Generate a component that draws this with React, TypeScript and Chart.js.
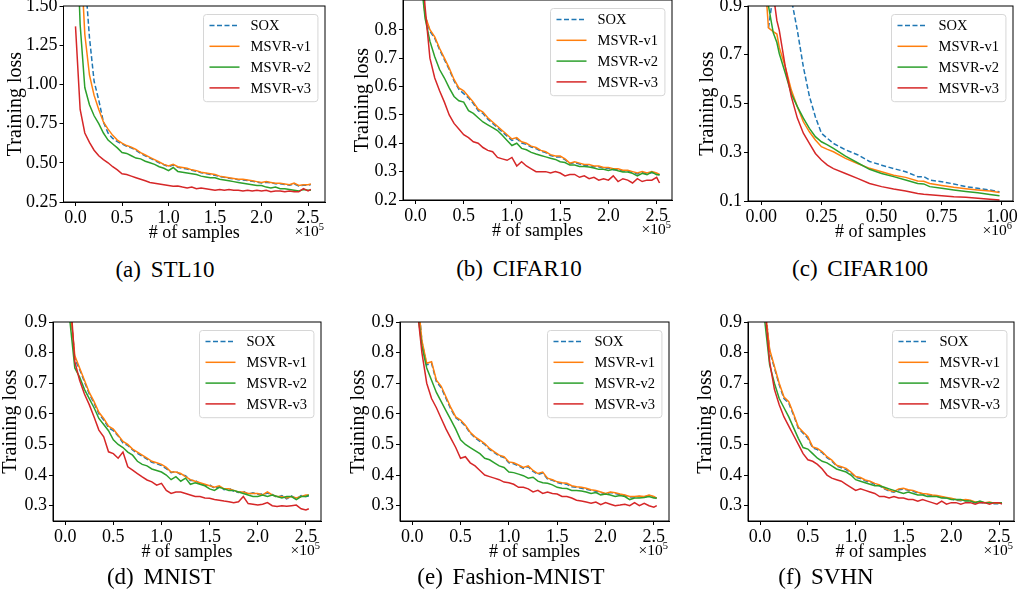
import React, { useEffect, useRef } from "react";
import { Chart, registerables } from "chart.js";

Chart.register(...registerables);
Chart.defaults.font.family = "'Liberation Serif', 'Times New Roman', serif";
Chart.defaults.color = "#000";

// ---------------- data ----------------
const SERIES_NAMES = ["SOX", "MSVR-v1", "MSVR-v2", "MSVR-v3"];
const SERIES_COLORS = ["#1f77b4", "#ff7f0e", "#2ca02c", "#d62728"];

// # of samples (x 1e5) shared by STL10, CIFAR10, MNIST, Fashion-MNIST, SVHN
const X_SAMPLES_E5 = [
  0, 0.05, 0.1, 0.15, 0.2, 0.25, 0.3, 0.35, 0.4, 0.45,
  0.5, 0.55, 0.6, 0.65, 0.7, 0.75, 0.8, 0.85, 0.9, 0.95,
  1.0, 1.05, 1.1, 1.15, 1.2, 1.25, 1.3, 1.35, 1.4, 1.45,
  1.5, 1.55, 1.6, 1.65, 1.7, 1.75, 1.8, 1.85, 1.9, 1.95,
  2.0, 2.05, 2.1, 2.15, 2.2, 2.25, 2.3, 2.35, 2.4, 2.45,
  2.5, 2.53,
];
// # of samples (x 1e6) for CIFAR100
const X_SAMPLES_E6 = [
  0.02, 0.03, 0.05, 0.065, 0.075, 0.1, 0.125, 0.15, 0.175, 0.2,
  0.225, 0.25, 0.275, 0.3, 0.35, 0.4, 0.45, 0.5, 0.55, 0.6,
  0.65, 0.675, 0.7, 0.75, 0.8, 0.85, 0.9, 0.95, 0.99,
];

const STL10_SOX = [
  4.0, 3.0, 1.7, 1.3, 1.02, 0.9, 0.76, 0.69, 0.655, 0.635,
  0.62, 0.605, 0.595, 0.58, 0.56, 0.545, 0.53, 0.515, 0.5, 0.488,
  0.476, 0.485, 0.472, 0.466, 0.46, 0.452, 0.446, 0.437, 0.432, 0.426,
  0.42, 0.412, 0.407, 0.402, 0.398, 0.392, 0.39, 0.387, 0.382, 0.377,
  0.372, 0.376, 0.372, 0.367, 0.366, 0.362, 0.357, 0.366, 0.352, 0.357,
  0.357, 0.362,
];
const STL10_V1 = [
  3.0, 1.9, 1.32, 1.06, 0.93, 0.84, 0.76, 0.715, 0.675, 0.645,
  0.625, 0.61, 0.6, 0.585, 0.565, 0.55, 0.535, 0.52, 0.505, 0.49,
  0.48, 0.49, 0.475, 0.47, 0.465, 0.455, 0.45, 0.44, 0.435, 0.43,
  0.425, 0.415, 0.41, 0.405, 0.4, 0.395, 0.395, 0.39, 0.385, 0.38,
  0.375, 0.38, 0.375, 0.37, 0.37, 0.365, 0.36, 0.37, 0.355, 0.36,
  0.36, 0.365,
];
const STL10_V2 = [
  2.2, 1.38, 0.98, 0.87, 0.8, 0.75, 0.69, 0.645, 0.62, 0.595,
  0.565, 0.56, 0.545, 0.53, 0.525, 0.51, 0.5, 0.49, 0.475, 0.465,
  0.45, 0.47, 0.445, 0.44, 0.435, 0.43, 0.425, 0.415, 0.41, 0.405,
  0.405, 0.395, 0.39, 0.385, 0.38, 0.375, 0.37, 0.365, 0.36, 0.355,
  0.355, 0.345, 0.34, 0.345, 0.335, 0.335, 0.33, 0.325, 0.32, 0.33,
  0.325, 0.325,
];
const STL10_V3 = [
  1.37, 0.84, 0.69, 0.63, 0.58, 0.545, 0.52, 0.5, 0.475, 0.455,
  0.43, 0.425, 0.415, 0.405, 0.395, 0.385, 0.375, 0.37, 0.365, 0.36,
  0.355, 0.35, 0.352, 0.345, 0.34, 0.345, 0.335, 0.34, 0.335, 0.33,
  0.325, 0.33, 0.325, 0.33, 0.325, 0.325, 0.32, 0.325, 0.32, 0.325,
  0.32, 0.325, 0.315, 0.32, 0.32, 0.315, 0.32, 0.315, 0.315, 0.335,
  0.32, 0.33,
];

const CIFAR10_SOX = [
  1.45, 1.06, 0.85, 0.795, 0.77, 0.73, 0.695, 0.66, 0.62, 0.59,
  0.575, 0.56, 0.54, 0.515, 0.505, 0.485, 0.47, 0.455, 0.44, 0.425,
  0.41, 0.416, 0.401, 0.396, 0.387, 0.381, 0.372, 0.367, 0.357, 0.352,
  0.352, 0.342, 0.328, 0.332, 0.327, 0.322, 0.322, 0.317, 0.317, 0.312,
  0.312, 0.307, 0.307, 0.302, 0.302, 0.297, 0.292, 0.297, 0.292, 0.297,
  0.292, 0.288,
];
const CIFAR10_V1 = [
  1.4, 1.05, 0.85, 0.8, 0.775, 0.735, 0.7, 0.665, 0.625, 0.595,
  0.585, 0.565, 0.545, 0.52, 0.51, 0.49, 0.475, 0.46, 0.445, 0.43,
  0.415, 0.42, 0.405, 0.4, 0.39, 0.385, 0.375, 0.37, 0.36, 0.355,
  0.355, 0.345, 0.33, 0.335, 0.33, 0.325, 0.325, 0.32, 0.32, 0.315,
  0.315, 0.31, 0.31, 0.305, 0.305, 0.3, 0.295, 0.3, 0.295, 0.3,
  0.295, 0.29,
];
const CIFAR10_V2 = [
  1.3, 1.0, 0.84, 0.76, 0.705, 0.66, 0.63, 0.595, 0.565, 0.55,
  0.545, 0.515, 0.505, 0.49, 0.475, 0.465, 0.455, 0.445, 0.428, 0.41,
  0.392, 0.4, 0.382, 0.377, 0.368, 0.362, 0.357, 0.352, 0.347, 0.343,
  0.335, 0.332, 0.323, 0.323, 0.318, 0.318, 0.316, 0.313, 0.308, 0.308,
  0.304, 0.308, 0.303, 0.299, 0.299, 0.294, 0.285, 0.294, 0.289, 0.298,
  0.289, 0.289,
];
const CIFAR10_V3 = [
  1.5, 1.1, 0.88, 0.7, 0.63, 0.585, 0.545, 0.5, 0.47, 0.45,
  0.43, 0.42, 0.405, 0.4, 0.385, 0.375, 0.37, 0.35, 0.345, 0.34,
  0.35, 0.32, 0.335, 0.32, 0.31, 0.3, 0.3, 0.3, 0.295, 0.3,
  0.295, 0.285, 0.29, 0.29, 0.28, 0.285, 0.275, 0.28, 0.27, 0.275,
  0.27, 0.285, 0.265, 0.275, 0.27, 0.26, 0.275, 0.265, 0.27, 0.27,
  0.28, 0.26,
];

const CIFAR100_SOX = [
  null, 0.81, 0.95, 1.0, 1.0, 0.98, 0.93, 0.8, 0.65, 0.53,
  0.445, 0.378, 0.357, 0.336, 0.31, 0.29, 0.262, 0.247, 0.233, 0.22,
  0.2, 0.2, 0.186, 0.179, 0.17, 0.159, 0.152, 0.145, 0.138,
];
const CIFAR100_V1 = [
  0.95, 0.81, 0.795, 0.785, 0.73, 0.65, 0.555, 0.487, 0.425, 0.384,
  0.35, 0.323, 0.312, 0.302, 0.275, 0.254, 0.234, 0.22, 0.206, 0.197,
  0.182, 0.181, 0.172, 0.164, 0.156, 0.15, 0.145, 0.141, 0.135,
];
const CIFAR100_V2 = [
  0.96, 0.9, 0.79, 0.75, 0.705, 0.624, 0.54, 0.487, 0.44, 0.398,
  0.364, 0.343, 0.33, 0.316, 0.284, 0.257, 0.23, 0.213, 0.2, 0.186,
  0.172, 0.17, 0.159, 0.152, 0.145, 0.139, 0.134, 0.127, 0.122,
];
const CIFAR100_V3 = [
  1.1, 1.05, 0.95, 0.84, 0.8, 0.65, 0.528, 0.44, 0.378, 0.336,
  0.295, 0.268, 0.247, 0.233, 0.213, 0.193, 0.172, 0.159, 0.149, 0.141,
  0.131, 0.128, 0.126, 0.122, 0.117, 0.115, 0.111, 0.107, 0.104,
];

const MNIST_SOX = [
  1.6, 0.96, 0.78, 0.745, 0.705, 0.665, 0.635, 0.6, 0.58, 0.555,
  0.545, 0.528, 0.505, 0.497, 0.482, 0.471, 0.462, 0.452, 0.442, 0.437,
  0.431, 0.421, 0.408, 0.412, 0.401, 0.398, 0.382, 0.383, 0.372, 0.367,
  0.368, 0.357, 0.362, 0.352, 0.357, 0.347, 0.343, 0.347, 0.337, 0.342,
  0.337, 0.338, 0.341, 0.337, 0.327, 0.333, 0.322, 0.332, 0.322, 0.333,
  0.33, 0.332,
];
const MNIST_V1 = [
  1.5, 0.95, 0.79, 0.75, 0.71, 0.67, 0.64, 0.605, 0.585, 0.56,
  0.55, 0.53, 0.51, 0.5, 0.485, 0.475, 0.465, 0.455, 0.445, 0.44,
  0.435, 0.425, 0.41, 0.41, 0.405, 0.395, 0.385, 0.38, 0.375, 0.37,
  0.365, 0.36, 0.365, 0.355, 0.355, 0.35, 0.345, 0.345, 0.34, 0.34,
  0.34, 0.335, 0.345, 0.335, 0.33, 0.33, 0.325, 0.33, 0.325, 0.33,
  0.335, 0.335,
];
const MNIST_V2 = [
  1.3, 0.9, 0.75, 0.72, 0.68, 0.65, 0.62, 0.585, 0.565, 0.545,
  0.515, 0.5, 0.49, 0.475, 0.465, 0.445, 0.435, 0.43, 0.42, 0.415,
  0.41, 0.4, 0.385, 0.395, 0.38, 0.39, 0.37, 0.375, 0.37, 0.365,
  0.355, 0.35, 0.36, 0.355, 0.35, 0.35, 0.345, 0.34, 0.335, 0.33,
  0.33, 0.335, 0.33, 0.335, 0.33, 0.325, 0.33, 0.33, 0.32, 0.33,
  0.33, 0.335,
];
const MNIST_V3 = [
  1.5, 1.0, 0.77, 0.71, 0.665, 0.63, 0.59, 0.547, 0.525, 0.476,
  0.47, 0.455, 0.475, 0.427, 0.416, 0.405, 0.394, 0.384, 0.378, 0.367,
  0.373, 0.35, 0.34, 0.345, 0.345, 0.34, 0.335, 0.33, 0.33, 0.325,
  0.324, 0.32, 0.318, 0.315, 0.313, 0.31, 0.313, 0.33, 0.307, 0.305,
  0.302, 0.305, 0.31, 0.3, 0.297, 0.3, 0.298, 0.3, 0.302, 0.29,
  0.286, 0.29,
];

const FMNIST_SOX = [
  1.6, 1.02, 0.835, 0.76, 0.765, 0.705, 0.685, 0.65, 0.615, 0.587,
  0.576, 0.56, 0.537, 0.522, 0.51, 0.5, 0.484, 0.473, 0.462, 0.457,
  0.44, 0.437, 0.43, 0.422, 0.427, 0.412, 0.402, 0.407, 0.387, 0.383,
  0.376, 0.372, 0.37, 0.362, 0.36, 0.357, 0.354, 0.35, 0.347, 0.343,
  0.338, 0.343, 0.34, 0.336, 0.333, 0.328, 0.328, 0.33, 0.328, 0.333,
  0.328, 0.323,
];
const FMNIST_V1 = [
  1.5, 1.0, 0.84, 0.765, 0.77, 0.71, 0.69, 0.655, 0.62, 0.59,
  0.58, 0.563, 0.54, 0.525, 0.514, 0.503, 0.487, 0.476, 0.465, 0.46,
  0.443, 0.44, 0.433, 0.425, 0.43, 0.415, 0.405, 0.41, 0.39, 0.385,
  0.378, 0.375, 0.373, 0.365, 0.362, 0.36, 0.357, 0.352, 0.35, 0.345,
  0.34, 0.345, 0.342, 0.338, 0.335, 0.33, 0.33, 0.332, 0.33, 0.335,
  0.33, 0.325,
];
const FMNIST_V2 = [
  1.4, 0.95, 0.82, 0.75, 0.71, 0.67, 0.64, 0.61, 0.58, 0.55,
  0.515, 0.5, 0.49, 0.48, 0.47, 0.455, 0.45, 0.44, 0.43, 0.425,
  0.41, 0.408, 0.403, 0.398, 0.39, 0.393, 0.38, 0.375, 0.373, 0.368,
  0.36, 0.357, 0.356, 0.35, 0.35, 0.348, 0.345, 0.34, 0.343, 0.335,
  0.338, 0.335, 0.33, 0.333, 0.33, 0.32, 0.325, 0.325, 0.327, 0.33,
  0.325, 0.325,
];
const FMNIST_V3 = [
  1.4, 0.95, 0.8, 0.7, 0.65, 0.62, 0.585, 0.55, 0.52, 0.49,
  0.455, 0.46, 0.44, 0.43, 0.415, 0.4, 0.395, 0.39, 0.385, 0.377,
  0.375, 0.37, 0.36, 0.36, 0.355, 0.345, 0.35, 0.34, 0.345, 0.34,
  0.338, 0.33, 0.33, 0.325, 0.318, 0.315, 0.312, 0.308, 0.312, 0.303,
  0.31, 0.305, 0.3, 0.302, 0.305, 0.3, 0.31, 0.3, 0.308, 0.3,
  0.295, 0.3,
];

const SVHN_SOX = [
  1.6, 0.96, 0.805, 0.75, 0.695, 0.65, 0.635, 0.596, 0.553, 0.537,
  0.52, 0.489, 0.483, 0.473, 0.457, 0.446, 0.43, 0.424, 0.418, 0.407,
  0.393, 0.389, 0.381, 0.377, 0.37, 0.365, 0.355, 0.348, 0.344, 0.352,
  0.354, 0.35, 0.347, 0.342, 0.338, 0.336, 0.333, 0.331, 0.328, 0.325,
  0.322, 0.318, 0.316, 0.318, 0.316, 0.31, 0.311, 0.308, 0.31, 0.306,
  0.306, 0.308,
];
const SVHN_V1 = [
  1.5, 0.95, 0.81, 0.755, 0.7, 0.655, 0.64, 0.6, 0.557, 0.541,
  0.525, 0.492, 0.487, 0.476, 0.46, 0.449, 0.432, 0.427, 0.422, 0.41,
  0.395, 0.392, 0.384, 0.38, 0.373, 0.368, 0.357, 0.35, 0.346, 0.355,
  0.357, 0.352, 0.35, 0.344, 0.34, 0.338, 0.335, 0.333, 0.33, 0.327,
  0.324, 0.32, 0.318, 0.32, 0.318, 0.312, 0.313, 0.31, 0.312, 0.308,
  0.308, 0.31,
];
const SVHN_V2 = [
  1.3, 0.9, 0.76, 0.7, 0.65, 0.62, 0.59, 0.555, 0.52, 0.49,
  0.485, 0.47, 0.455, 0.445, 0.44, 0.43, 0.42, 0.415, 0.41, 0.4,
  0.385, 0.38, 0.375, 0.37, 0.365, 0.365, 0.36, 0.355, 0.35, 0.345,
  0.34, 0.345, 0.34, 0.335, 0.335, 0.33, 0.33, 0.33, 0.325, 0.325,
  0.32, 0.32, 0.32, 0.315, 0.315, 0.31, 0.315, 0.31, 0.31, 0.31,
  0.31, 0.31,
];
const SVHN_V3 = [
  1.4, 0.95, 0.77, 0.68, 0.63, 0.59, 0.56, 0.53, 0.5, 0.47,
  0.45, 0.445, 0.435, 0.42, 0.4, 0.39, 0.385, 0.38, 0.37, 0.36,
  0.35, 0.355, 0.35, 0.345, 0.34, 0.33, 0.33, 0.325, 0.33, 0.325,
  0.325, 0.32, 0.32, 0.315, 0.32, 0.315, 0.31, 0.305, 0.315, 0.305,
  0.31, 0.31, 0.305, 0.31, 0.31, 0.305, 0.31, 0.31, 0.305, 0.31,
  0.31, 0.305,
];

// tick labels
const X_TICKS_E5 = [0, 0.5, 1.0, 1.5, 2.0, 2.5];
const X_TICKS_E6 = [0, 0.25, 0.5, 0.75, 1.0];
const Y_TICKS_STL10 = [0.25, 0.5, 0.75, 1.0, 1.25, 1.5];
const Y_TICKS_CIFAR10 = [0.2, 0.3, 0.4, 0.5, 0.6, 0.7, 0.8];
const Y_TICKS_CIFAR100 = [0.1, 0.3, 0.5, 0.7, 0.9];
const Y_TICKS_SMALL = [0.3, 0.4, 0.5, 0.6, 0.7, 0.8, 0.9];

const CAPTIONS = ["(a) STL10", "(b) CIFAR10", "(c) CIFAR100", "(d) MNIST", "(e) Fashion-MNIST", "(f) SVHN"];

// ---------------- layout ----------------
type PanelCfg = {
  L: number; T: number; R: number; B: number;
  titleX: number; canvasTop: number;
  xMin: number; xMax: number; yMin: number; yMax: number;
  xs: number[]; series: (number | null)[][];
  xTicks: number[]; yTicks: number[]; xDigits: number; yDigits: number;
  exp: string; capX: number; capY: number; caption: string;
};

const PANELS: PanelCfg[] = [
  { L: 63, T: 6, R: 325, B: 202, titleX: 15.5, canvasTop: -20, xMin: -0.129, xMax: 2.682, yMin: 0.25, yMax: 1.5,
    xs: X_SAMPLES_E5, series: [STL10_SOX, STL10_V1, STL10_V2, STL10_V3], xTicks: X_TICKS_E5, yTicks: Y_TICKS_STL10,
    xDigits: 1, yDigits: 2, exp: "5", capX: 165, capY: 270, caption: CAPTIONS[0] },
  { L: 403, T: 0, R: 672, B: 200, titleX: 363, canvasTop: -20, xMin: -0.129, xMax: 2.659, yMin: 0.2, yMax: 0.905,
    xs: X_SAMPLES_E5, series: [CIFAR10_SOX, CIFAR10_V1, CIFAR10_V2, CIFAR10_V3], xTicks: X_TICKS_E5, yTicks: Y_TICKS_CIFAR10,
    xDigits: 1, yDigits: 1, exp: "5", capX: 519, capY: 269, caption: CAPTIONS[1] },
  { L: 748, T: 6, R: 1013, B: 201, titleX: 708, canvasTop: -20, xMin: -0.055, xMax: 1.046, yMin: 0.1, yMax: 0.9,
    xs: X_SAMPLES_E6, series: [CIFAR100_SOX, CIFAR100_V1, CIFAR100_V2, CIFAR100_V3], xTicks: X_TICKS_E6, yTicks: Y_TICKS_CIFAR100,
    xDigits: 2, yDigits: 1, exp: "6", capX: 860, capY: 269, caption: CAPTIONS[2] },
  { L: 53, T: 322, R: 321, B: 521, titleX: 11, canvasTop: 300, xMin: -0.1265, xMax: 2.6565, yMin: 0.25, yMax: 0.9,
    xs: X_SAMPLES_E5, series: [MNIST_SOX, MNIST_V1, MNIST_V2, MNIST_V3], xTicks: X_TICKS_E5, yTicks: Y_TICKS_SMALL,
    xDigits: 1, yDigits: 1, exp: "5", capX: 161, capY: 577, caption: CAPTIONS[3] },
  { L: 400, T: 322, R: 669, B: 521, titleX: 359, canvasTop: 300, xMin: -0.1265, xMax: 2.6565, yMin: 0.25, yMax: 0.9,
    xs: X_SAMPLES_E5, series: [FMNIST_SOX, FMNIST_V1, FMNIST_V2, FMNIST_V3], xTicks: X_TICKS_E5, yTicks: Y_TICKS_SMALL,
    xDigits: 1, yDigits: 1, exp: "5", capX: 511, capY: 577, caption: CAPTIONS[4] },
  { L: 748, T: 322, R: 1014, B: 521, titleX: 706, canvasTop: 300, xMin: -0.1265, xMax: 2.6565, yMin: 0.25, yMax: 0.9,
    xs: X_SAMPLES_E5, series: [SVHN_SOX, SVHN_V1, SVHN_V2, SVHN_V3], xTicks: X_TICKS_E5, yTicks: Y_TICKS_SMALL,
    xDigits: 1, yDigits: 1, exp: "5", capX: 826, capY: 577, caption: CAPTIONS[5] },
];

const X_AXIS_H = 40;
const PAD_RIGHT = 12;
const Y_TITLE_SIZE = 20;

const framePlugin = {
  id: "frame",
  afterDatasetsDraw(chart: any) {
    const { ctx, chartArea } = chart;
    ctx.save();
    ctx.strokeStyle = "#000";
    ctx.lineWidth = 1;
    ctx.strokeRect(chartArea.left, chartArea.top, chartArea.right - chartArea.left, chartArea.bottom - chartArea.top);
    ctx.restore();
  },
};

const legendPlugin = {
  id: "boxLegend",
  afterDraw(chart: any) {
    const { ctx, chartArea } = chart;
    const datasets = chart.data.datasets;
    ctx.save();
    ctx.font = "14.5px 'Liberation Serif', serif";
    const tw = Math.max(...datasets.map((d: any) => ctx.measureText(d.label).width));
    const rowH = 20.8;
    const w = 47 + tw + 7;
    const h = rowH * datasets.length + 4;
    const x0 = Math.round(chartArea.right - 8 - w) + 0.5;
    const y0 = Math.round(chartArea.top + 8) + 0.5;
    ctx.beginPath();
    (ctx as any).roundRect(x0, y0, w, h, 3);
    ctx.fillStyle = "rgba(255,255,255,0.85)";
    ctx.fill();
    ctx.strokeStyle = "#d6d6d6";
    ctx.lineWidth = 1;
    ctx.stroke();
    datasets.forEach((ds: any, i: number) => {
      const y = y0 + 11 + i * rowH;
      ctx.beginPath();
      ctx.setLineDash(ds.borderDash || []);
      ctx.strokeStyle = ds.borderColor;
      ctx.lineWidth = 1.5;
      ctx.moveTo(x0 + 6, y);
      ctx.lineTo(x0 + 36, y);
      ctx.stroke();
      ctx.setLineDash([]);
      ctx.fillStyle = "#000";
      ctx.textBaseline = "middle";
      ctx.textAlign = "left";
      ctx.fillText(ds.label, x0 + 47, y + 1);
    });
    ctx.restore();
  },
};

function Panel({ cfg }: { cfg: PanelCfg }) {
  const ref = useRef<HTMLCanvasElement>(null);
  const canvasLeft = cfg.titleX - Y_TITLE_SIZE / 2;
  const width = cfg.R + PAD_RIGHT - canvasLeft;
  const height = cfg.B + X_AXIS_H - cfg.canvasTop;

  useEffect(() => {
    if (!ref.current) return;
    const yAxisW = cfg.L - canvasLeft;
    const datasets = cfg.series.map((vals, i) => ({
      label: SERIES_NAMES[i],
      data: cfg.xs.map((x, j) => ({ x, y: vals[j] })),
      borderColor: SERIES_COLORS[i],
      backgroundColor: SERIES_COLORS[i],
      borderWidth: 1.5,
      borderDash: i === 0 ? [5, 2.5] : [],
      pointRadius: 0,
      tension: 0,
      spanGaps: false,
      clip: 0,
      order: 4 - i,
    }));
    const chart = new Chart(ref.current, {
      type: "line",
      data: { datasets },
      options: {
        animation: false,
        responsive: false,
        events: [],
        layout: { padding: { left: 0, top: cfg.T - cfg.canvasTop, right: PAD_RIGHT, bottom: 0 } },
        plugins: { legend: { display: false }, tooltip: { enabled: false } },
        scales: {
          x: {
            type: "linear",
            min: cfg.xMin,
            max: cfg.xMax,
            afterBuildTicks: (s: any) => { s.ticks = cfg.xTicks.map((v) => ({ value: v })); },
            afterFit: (s: any) => { s.height = X_AXIS_H; },
            ticks: {
              callback: (v: any) => Number(v).toFixed(cfg.xDigits),
              font: { size: 18 }, color: "#000", padding: 1,
              maxRotation: 0, minRotation: 0, autoSkip: false,
            },
            grid: { drawOnChartArea: false, drawTicks: true, tickLength: 4, color: "#000", lineWidth: 1 },
            border: { display: true, color: "#000", width: 1 },
            title: { display: true, text: "# of samples", font: { size: 18, lineHeight: 1 }, color: "#000", padding: 0 },
          },
          y: {
            type: "linear",
            min: cfg.yMin,
            max: cfg.yMax,
            afterBuildTicks: (s: any) => { s.ticks = cfg.yTicks.map((v) => ({ value: v })); },
            afterFit: (s: any) => { s.width = yAxisW; },
            ticks: {
              callback: (v: any) => Number(v).toFixed(cfg.yDigits),
              font: { size: 18 }, color: "#000", padding: 2, autoSkip: false,
            },
            grid: { drawOnChartArea: false, drawTicks: true, tickLength: 4, color: "#000", lineWidth: 1 },
            border: { display: true, color: "#000", width: 1 },
            title: { display: true, text: "Training loss", font: { size: Y_TITLE_SIZE, lineHeight: 1 }, color: "#000", padding: 0 },
          },
        },
      } as any,
      plugins: [framePlugin, legendPlugin],
    });
    return () => chart.destroy();
  }, []);

  return (
    <>
      <canvas
        ref={ref}
        width={width}
        height={height}
        style={{ position: "absolute", left: canvasLeft, top: cfg.canvasTop, width, height }}
      />
      <div
        style={{
          position: "absolute", right: 1021 - (cfg.R - 1), top: cfg.B + 21,
          fontSize: 15.5, lineHeight: "16px", whiteSpace: "nowrap", color: "#000",
        }}
      >
        ×10<span style={{ fontSize: 10.5, position: "relative", top: -6 }}>{cfg.exp}</span>
      </div>
      <div
        style={{
          position: "absolute", left: cfg.capX - 150, width: 300, top: cfg.capY - 12,
          textAlign: "center", fontSize: 23, lineHeight: "24px", wordSpacing: 4, whiteSpace: "nowrap", color: "#000",
        }}
      >
        {cfg.caption}
      </div>
    </>
  );
}

export default function App() {
  return (
    <div
      style={{
        position: "absolute", left: 0, top: 0, width: 1021, height: 606, overflow: "hidden",
        background: "#fff", fontFamily: "'Liberation Serif', 'Times New Roman', serif",
      }}
    >
      {PANELS.map((p, i) => <Panel key={i} cfg={p} />)}
    </div>
  );
}
